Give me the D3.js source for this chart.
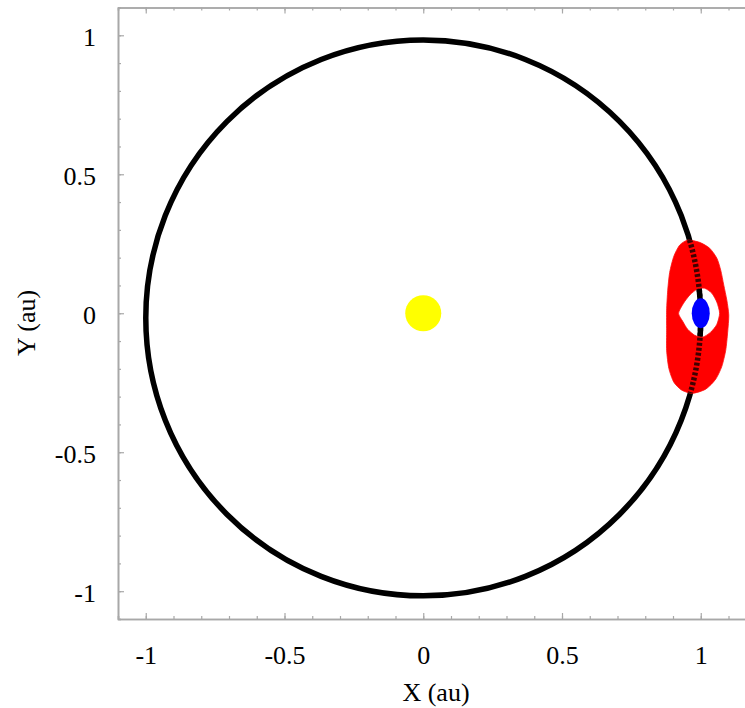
<!DOCTYPE html>
<html>
<head>
<meta charset="utf-8">
<script src="https://cdn.jsdelivr.net/npm/d3@7"></script>
<style>
  body { margin: 0; background: #fff; }
  svg { display: block; }
</style>
</head>
<body>
<svg id="chart" width="745" height="708"></svg>
<script>
// ---- data ----
const xMajorTicks = [-1, -0.5, 0, 0.5, 1];
const yMajorTicks = [-1, -0.5, 0, 0.5, 1];
const xMinorTicks = [-1.1,-1,-0.9,-0.8,-0.7,-0.6,-0.5,-0.4,-0.3,-0.2,-0.1,0,0.1,0.2,0.3,0.4,0.5,0.6,0.7,0.8,0.9,1,1.1,1.2];
const yMinorTicks = [-1.1,-1,-0.9,-0.8,-0.7,-0.6,-0.5,-0.4,-0.3,-0.2,-0.1,0,0.1,0.2,0.3,0.4,0.5,0.6,0.7,0.8,0.9,1,1.1];
const xLabels = ["-1", "-0.5", "0", "0.5", "1"];
const yLabels = ["-1", "-0.5", "0", "0.5", "1"];
// Earth orbit (ellipse): semi-major axis, eccentricity (focus at the Sun)
const orbitA = 1.0;
const orbitE = 0.0167;
// Bodies
const sunPos = [0, 0];
const earthPos = [1.0, 0];
// Envelope of the red trajectory loops around Earth (outer and inner contour, au)
const loopOuterX = [0.953,0.996,1.032,1.058,1.072,1.083,1.094,1.101,1.097,1.090,1.076,1.054,1.018,0.971,0.932,0.903,0.885,0.877,0.877,0.877,0.881,0.888,0.903,0.924];
const loopOuterY = [0.263,0.255,0.234,0.198,0.155,0.101,0.047,-0.007,-0.068,-0.133,-0.191,-0.237,-0.273,-0.288,-0.277,-0.248,-0.198,-0.133,-0.061,0.011,0.083,0.147,0.205,0.245];
const loopInnerX = [0.920,0.938,0.960,0.986,1.014,1.040,1.058,1.068,1.058,1.036,1.007,0.978,0.953,0.935];
const loopInnerY = [0,0.036,0.065,0.086,0.090,0.072,0.040,0,-0.040,-0.068,-0.086,-0.079,-0.058,-0.029];

// ---- layout ----
const FONT = "Liberation Serif";
const svg = d3.select("#chart");
const mLeft = 118, mTop = 7.5, mBottom = 619;
const x = d3.scaleLinear().domain([-1.1, 1.2]).range([mLeft, mLeft + 2.3 * 277.5]);
const y = d3.scaleLinear().domain([-1.1, 1.1]).range([mBottom, mTop]);
const axisColor = "#a8a8a8";

function styleAxis(g) {
  g.select(".domain").attr("stroke", axisColor).attr("stroke-width", 1.6);
  g.selectAll(".tick line").attr("stroke", axisColor).attr("stroke-width", 1.2);
}
// minor ticks
svg.append("g").attr("transform", `translate(0,${mBottom})`)
  .call(d3.axisBottom(x).tickValues(xMinorTicks).tickSize(-3).tickFormat(""))
  .call(styleAxis);
svg.append("g").attr("transform", `translate(0,${mTop})`)
  .call(d3.axisTop(x).tickValues(xMinorTicks).tickSize(-3).tickFormat(""))
  .call(styleAxis);
svg.append("g").attr("transform", `translate(${mLeft},0)`)
  .call(d3.axisLeft(y).tickValues(yMinorTicks).tickSize(-3).tickFormat(""))
  .call(styleAxis);
// major ticks + labels
const xAx = svg.append("g").attr("transform", `translate(0,${mBottom})`)
  .call(d3.axisBottom(x).tickValues(xMajorTicks).tickSizeInner(-6).tickSizeOuter(0).tickPadding(27)
    .tickFormat((d, i) => xLabels[i]))
  .call(styleAxis);
svg.append("g").attr("transform", `translate(0,${mTop})`)
  .call(d3.axisTop(x).tickValues(xMajorTicks).tickSizeInner(-6).tickSizeOuter(0).tickFormat(""))
  .call(styleAxis);
const yAx = svg.append("g").attr("transform", `translate(${mLeft},0)`)
  .call(d3.axisLeft(y).tickValues(yMajorTicks).tickSizeInner(-6).tickSizeOuter(0).tickPadding(22)
    .tickFormat((d, i) => yLabels[i]))
  .call(styleAxis);
[xAx, yAx].forEach(g => {
  g.attr("font-family", FONT).attr("font-size", 26);
  g.selectAll("text").style("font-family", FONT).style("font-size", "26px").attr("fill", "#000");
});
yAx.selectAll("text").attr("dy", "0.4em");

// axis titles
svg.append("text").attr("x", 436).attr("y", 701).attr("text-anchor", "middle")
  .style("font-family", FONT).style("font-size", "26px").text("X (au)");
svg.append("text").attr("transform", "translate(35,323) rotate(-90)").attr("text-anchor", "middle")
  .style("font-family", FONT).style("font-size", "26px").text("Y (au)");

// orbit ellipse (Sun at focus)
const c = orbitA * orbitE;
const b = orbitA * Math.sqrt(1 - orbitE * orbitE);
const orbitAttrs = sel => sel
  .attr("cx", x(0)).attr("cy", y(-c))
  .attr("rx", x(b) - x(0)).attr("ry", y(-c) - y(-c + orbitA))
  .attr("fill", "none").attr("stroke", "#000").attr("stroke-width", 5.5);
svg.append("ellipse").call(orbitAttrs);

// red trajectory envelope
const line = d3.line().x(d => x(d[0])).y(d => y(d[1])).curve(d3.curveCardinalClosed.tension(0.3));
const outer = loopOuterX.map((v, i) => [v, loopOuterY[i]]);
const inner = loopInnerX.map((v, i) => [v, loopInnerY[i]]);
svg.append("path")
  .attr("d", line(outer) + line(inner))
  .attr("fill", "#ff0000").attr("fill-rule", "evenodd")
  .attr("stroke", "#ff1010").attr("stroke-width", 0.8);

// orbit seen through the loops (dotted dark)
const clip = svg.append("clipPath").attr("id", "loopclip");
clip.append("path").attr("d", line(outer));
svg.append("ellipse").call(orbitAttrs)
  .attr("clip-path", "url(#loopclip)")
  .attr("stroke-dasharray", "3,2").attr("stroke-opacity", 0.75);

// Sun and Earth
svg.append("circle").attr("cx", x(sunPos[0])).attr("cy", y(sunPos[1])).attr("r", 18).attr("fill", "#ffff00");
svg.append("ellipse").attr("cx", x(earthPos[0])).attr("cy", y(earthPos[1])).attr("rx", 9).attr("ry", 15).attr("fill", "#0000ff");
</script>
</body>
</html>
